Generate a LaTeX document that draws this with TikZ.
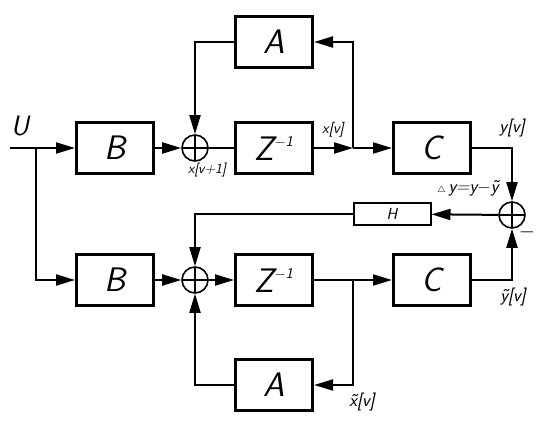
\documentclass[tikz,border=0pt]{standalone}
\usepackage{fontspec}
\usepackage{tikz}
\usetikzlibrary{positioning,arrows.meta,calc}
\tikzset{
  >={Triangle[length=19pt,width=11pt]},
  every node/.style={font=\sffamily\slshape},
  % --- nodes
  blk/.style   = {draw, line width=3pt, minimum width=77pt, minimum height=51pt,
                  inner sep=0pt, font=\sffamily\slshape\fontsize{34}{36}\selectfont},
  hblk/.style  = {blk, line width=2pt, minimum height=22pt,
                  font=\sffamily\slshape\fontsize{16}{17}\selectfont},
  sumnd/.style = {draw, circle, line width=1.6pt, minimum size=26pt, inner sep=0pt,
                  path picture={\draw[line width=1.6pt]
                    (path picture bounding box.north) -- (path picture bounding box.south)
                    (path picture bounding box.west) -- (path picture bounding box.east);}},
  lbl/.style   = {font=\sffamily\slshape\fontsize{18}{19}\selectfont\addfontfeatures{LetterSpace=20},
                  inner sep=1pt},
  % --- edges
  sig/.style   = {line width=2pt},
  sigar/.style = {sig, ->},
}
\newcommand{\zinv}{Z\raisebox{14pt}{\fontsize{15}{15}\selectfont $-$1}}

\begin{document}
\begin{tikzpicture}[x=1pt,y=-1pt]
  \useasboundingbox (0,0) rectangle (542,428);
  % upper row
  \node[blk] (B1) at (115,148) {B};
  \node[sumnd] (S1) at (195,148) {};
  \node[blk] (Z1) at (274,148) {\zinv};
  \node[blk] (A1) at (274,42) {A};
  \node[blk] (C1) at (432,148) {C};
  % feedback
  \node[sumnd] (S3) at (512,215) {};
  \node[hblk] (H) at (392,214) {H};
  % lower row
  \node[blk] (B2) at (115,280) {B};
  \node[sumnd] (S2) at (195,280) {};
  \node[blk] (Z2) at (274,280) {\zinv};
  \node[blk] (A2) at (274,385) {A};
  \node[blk] (C2) at (432,280) {C};
  \coordinate (in) at (10,148);
  \coordinate (split) at (36,148);
  \coordinate (br1) at (353,148);
  \coordinate (br2) at (353,280);
  % labels
  \node[lbl, font=\sffamily\slshape\fontsize{28}{30}\selectfont] (lU) at (20,126) {U};
  \node[lbl, font=\sffamily\slshape\fontsize{14}{15}\selectfont\addfontfeatures{LetterSpace=10}] (lx1) at (207,170) {x[v+1]};
  \node[lbl, font=\sffamily\slshape\fontsize{15}{16}\selectfont\addfontfeatures{LetterSpace=10}] (lx) at (333,130) {x[v]};
  \node[lbl] (ly) at (512,128) {y[v]};
  \node[lbl] (ldy) at (468,188) {$\scriptscriptstyle\triangle$\,y=y$-$\~{y}};
  \node[lbl] (lyt) at (513,297) {\~{y}[v]};
  \node[lbl] (lxt) at (362,402) {\~{x}[v]};
  \node[lbl, font=\fontsize{20}{20}\selectfont] (lmin) at (527,232) {$-$};
  % connectors
  \draw[sigar] (in) -- (B1);
  \draw[sigar] (split) |- (B2);
  \draw[sigar] (B1) -- (S1);
  \draw[sig] (S1) -- (Z1);
  \draw[sigar] (Z1) -- (br1);
  \draw[sigar] (br1) -- (C1);
  \draw[sigar] (br1) |- (A1);
  \draw[sigar] (A1) -| (S1);
  \draw[sigar] (C1) -| (S3);
  \draw[sigar] (S3) -- (H);
  \draw[sigar] (H) -| (S2);
  \draw[sigar] (B2) -- (S2);
  \draw[sigar] (S2) -- (Z2);
  \draw[sig] (Z2) -- (br2);
  \draw[sigar] (br2) -- (C2);
  \draw[sigar] (br2) |- (A2);
  \draw[sigar] (A2) -| (S2);
  \draw[sigar] (C2) -| (S3);
\end{tikzpicture}
\end{document}
